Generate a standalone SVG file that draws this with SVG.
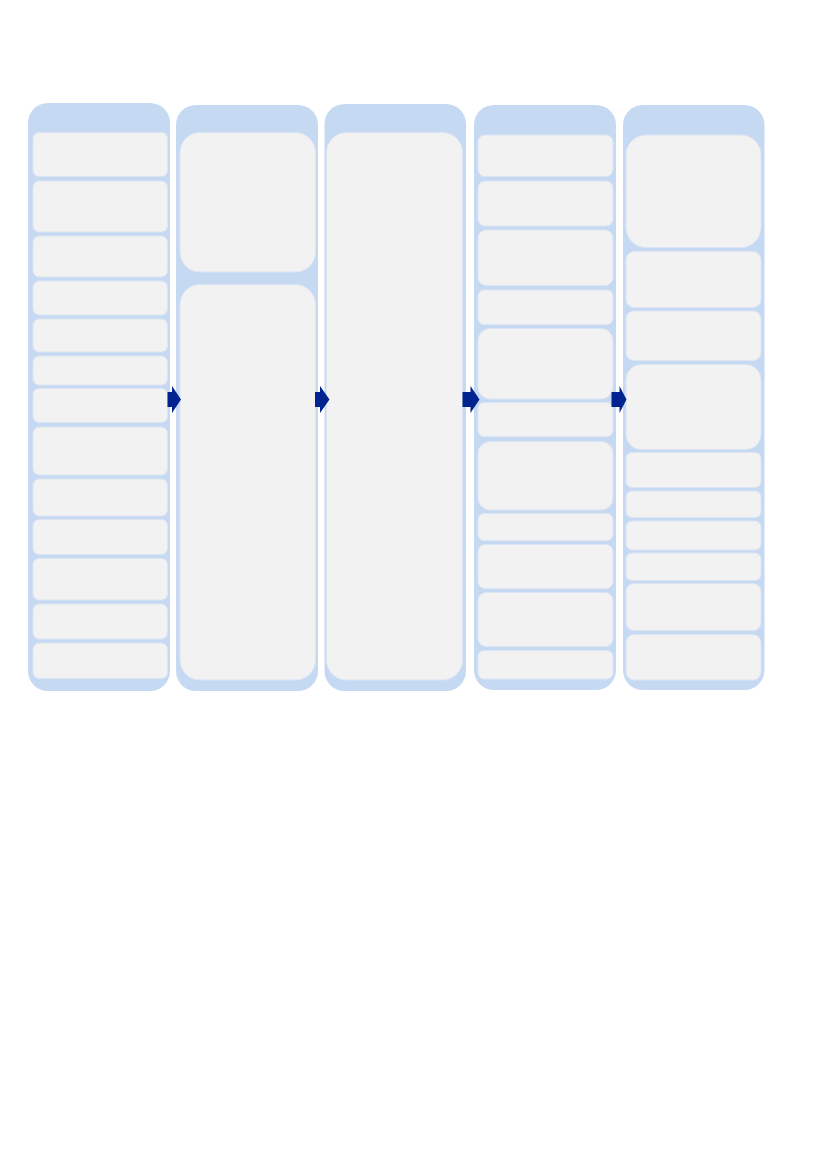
<svg xmlns="http://www.w3.org/2000/svg" width="827" height="1169" viewBox="0 0 827 1169">
<style>
.col{fill:#c6d9f2;}
.box{fill:#f2f2f2;stroke:#dde5f2;stroke-width:1;}
.arr{fill:#00238f;}
</style>
<rect width="827" height="1169" fill="#ffffff"/>
<g id="column1">
<rect class="col" x="28" y="103" width="142" height="588" rx="20"/>
<rect class="box" x="33" y="132.5" width="134.5" height="44" rx="6"/>
<rect class="box" x="33" y="181" width="134.5" height="51" rx="6"/>
<rect class="box" x="33" y="236" width="134.5" height="41" rx="6"/>
<rect class="box" x="33" y="281" width="134.5" height="34" rx="6"/>
<rect class="box" x="33" y="319" width="134.5" height="33" rx="6"/>
<rect class="box" x="33" y="356" width="134.5" height="29" rx="6"/>
<rect class="box" x="33" y="388.5" width="134.5" height="34" rx="6"/>
<rect class="box" x="33" y="427" width="134.5" height="48" rx="6"/>
<rect class="box" x="33" y="479" width="134.5" height="37" rx="6"/>
<rect class="box" x="33" y="519.5" width="134.5" height="35" rx="6"/>
<rect class="box" x="33" y="558.5" width="134.5" height="41.5" rx="6"/>
<rect class="box" x="33" y="604" width="134.5" height="35" rx="6"/>
<rect class="box" x="33" y="643" width="134.5" height="35.5" rx="6"/>
</g>
<g id="column2">
<rect class="col" x="176" y="105" width="142" height="586" rx="20"/>
<rect class="box" x="180" y="132.5" width="135.5" height="139.5" rx="20"/>
<rect class="box" x="180" y="284.5" width="135.5" height="395.5" rx="20"/>
</g>
<g id="column3">
<rect class="col" x="324.5" y="104" width="141.5" height="587" rx="20"/>
<rect class="box" x="326.5" y="132.5" width="136" height="547.5" rx="20"/>
</g>
<g id="column4">
<rect class="col" x="474" y="105" width="142" height="585" rx="20"/>
<rect class="box" x="478" y="135" width="135" height="41.5" rx="7"/>
<rect class="box" x="478" y="181" width="135" height="45" rx="7"/>
<rect class="box" x="478" y="230" width="135" height="55.5" rx="8"/>
<rect class="box" x="478" y="290" width="135" height="34.5" rx="6"/>
<rect class="box" x="478" y="328.5" width="135" height="70.5" rx="12"/>
<rect class="box" x="478" y="402.5" width="135" height="34" rx="6"/>
<rect class="box" x="478" y="441.5" width="135" height="68.5" rx="12"/>
<rect class="box" x="478" y="513.5" width="135" height="27" rx="6"/>
<rect class="box" x="478" y="544.5" width="135" height="44" rx="7"/>
<rect class="box" x="478" y="592.5" width="135" height="54" rx="8"/>
<rect class="box" x="478" y="650.5" width="135" height="28.5" rx="6"/>
</g>
<g id="column5">
<rect class="col" x="623" y="105" width="141.5" height="585" rx="20"/>
<rect class="box" x="626" y="135" width="135" height="112.5" rx="20"/>
<rect class="box" x="626" y="251.5" width="135" height="56" rx="8"/>
<rect class="box" x="626" y="311" width="135" height="49.5" rx="8"/>
<rect class="box" x="626" y="364.5" width="135" height="85" rx="15"/>
<rect class="box" x="626" y="452.5" width="135" height="35" rx="6"/>
<rect class="box" x="626" y="491" width="135" height="26.5" rx="6"/>
<rect class="box" x="626" y="521" width="135" height="29" rx="6"/>
<rect class="box" x="626" y="553" width="135" height="27.5" rx="6"/>
<rect class="box" x="626" y="583.5" width="135" height="47" rx="8"/>
<rect class="box" x="626" y="634.5" width="135" height="45.5" rx="8"/>
</g>
<g id="connectors">
<polygon class="arr" points="167.5,392 172,392 172,386 181,399.5 172,413 172,407 167.5,407"/>
<polygon class="arr" points="315,392 320,392 320,386 329.5,399.5 320,413 320,407 315,407"/>
<polygon class="arr" points="462.5,392 470.5,392 470.5,386 479.5,399.5 470.5,413 470.5,407 462.5,407"/>
<polygon class="arr" points="611.5,392 619.5,392 619.5,386 626.5,399.5 619.5,413 619.5,407 611.5,407"/>
</g>
</svg>
